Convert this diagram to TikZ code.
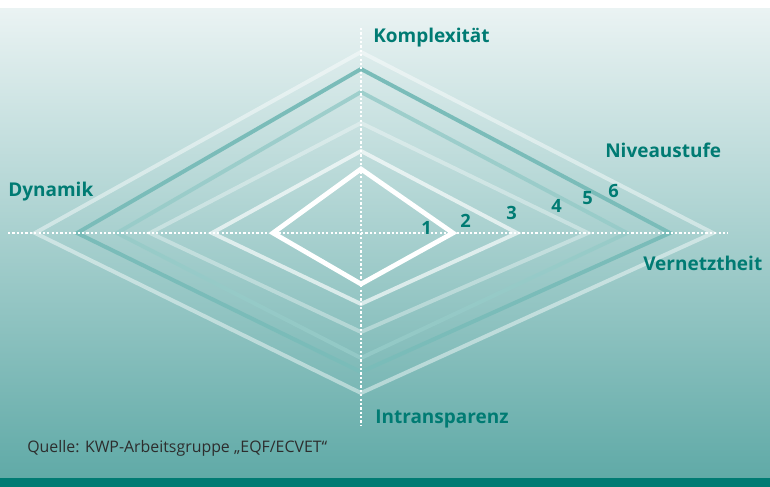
\documentclass[tikz,border=0pt]{standalone}
\usepackage{fontspec}
\setmainfont{Open Sans}

\definecolor{kwpteal}{RGB}{0,123,115}
\definecolor{bgtop}{RGB}{234,243,243}
\definecolor{bgbot}{RGB}{96,170,167}
\definecolor{rautedunkel}{RGB}{122,188,185}
\definecolor{rautemittel}{RGB}{150,203,200}
\definecolor{quelltext}{RGB}{45,45,45}

\begin{document}
\begin{tikzpicture}[
    x=0.025cm, y=0.025cm,
    achse/.style={white, line width=1.6pt, dash pattern=on 1.6pt off 1.5pt},
    raute/.style={line width=2.8pt, line join=miter},
    dimension/.style={font=\bfseries\fontsize{13.5}{15}\selectfont, text=kwpteal, inner sep=0pt, anchor=base west},
    stufe/.style={font=\bfseries\fontsize{13}{15}\selectfont, text=kwpteal, inner sep=0pt, anchor=base west},
    quelle/.style={font=\fontsize{11.3}{13}\selectfont, text=quelltext, inner sep=0pt, anchor=base west}
]
\useasboundingbox (0,0) rectangle (770,487);

% Hintergrund
\fill[white] (0,0) rectangle (770,487);
\shade[top color=bgtop, bottom color=bgbot] (0,9) rectangle (770,478);
\fill[kwpteal] (0,0) rectangle (770,9);

% Rauten (Stufe 6 bis 1)
\draw[raute, white, opacity=0.45] (35,254) -- (361,435) -- (713,254) -- (361,94) -- cycle;
\draw[raute, rautedunkel] (77,254) -- (361,418) -- (670,254) -- (361,115) -- cycle;
\draw[raute, rautemittel, opacity=0.85] (117,254) -- (361,395) -- (627,254) -- (361,129) -- cycle;
\draw[raute, white, opacity=0.35] (150,254) -- (361,364) -- (588,254) -- (361,155) -- cycle;
\draw[raute, white, opacity=0.65] (212,254) -- (361,336) -- (517,254) -- (361,183) -- cycle;
\draw[raute, white, line width=3.4pt] (273,254) -- (361,318) -- (453,254) -- (361,203) -- cycle;

% Achsen
\coordinate (achseO) at (361,459);
\coordinate (achseU) at (361,62);
\coordinate (achseL) at (8,254);
\coordinate (achseR) at (728,254);
\draw[achse] (achseO) -- (achseU);
\draw[achse] (achseL) -- (achseR);

% Beschriftungen
\node[dimension] (komplexitaet) at (373,444) {Komplexität};
\node[dimension] (niveaustufe) at (605,329) {Niveaustufe};
\node[dimension] (dynamik) at (8,290) {Dynamik};
\node[dimension] (vernetztheit) at (643,216) {Vernetztheit};
\node[dimension] (intransparenz) at (375,63) {Intransparenz};

\node[stufe] (stufe1) at (421,252) {1};
\node[stufe] (stufe2) at (460,259) {2};
\node[stufe] (stufe3) at (506,267) {3};
\node[stufe] (stufe4) at (551,274) {4};
\node[stufe] (stufe5) at (582,282) {5};
\node[stufe] (stufe6) at (608,289) {6};

\node[quelle] (quelle) at (27,34) {Quelle: KWP-Arbeitsgruppe „EQF/ECVET“};

\end{tikzpicture}
\end{document}
